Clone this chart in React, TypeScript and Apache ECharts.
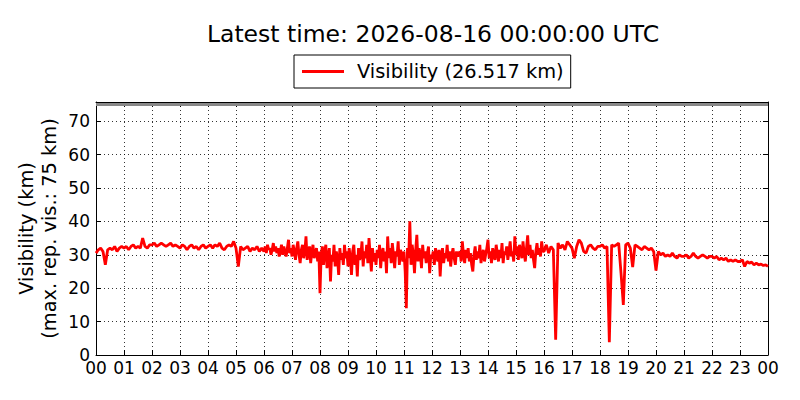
import React, { useEffect, useRef } from "react";
import * as echarts from "echarts";

// Visibility (km).
// 00:00–06:00, one value every 5 minutes
const visH00 = [
  30.5, 31.5, 32, 31, 27, 31.5, 32, 31.5, 32.5, 31, 32, 32.5,
  32, 32.5, 31.5, 32.5, 33, 32, 32.5, 32, 35, 32.5, 32, 33,
  33, 33.5, 32.5, 33, 33.5, 33, 32.5, 33, 33.5, 32.5, 33, 32.5,
  32, 33, 32.5, 31.5, 32.5, 33, 32, 32.5, 31.5, 32.5, 33, 32,
  32.5, 33, 32, 33, 32.5, 33.5, 32, 31.5, 32.5, 33, 32.5, 34,
  32, 26.5, 32.5, 31.5, 32, 32.5, 31, 32, 31.5, 32.5, 31, 32,
];
// 06:00–11:00, one value every 2.5 minutes
const visH06 = [
  31, 32.5, 30.5, 33, 31.5, 32, 30, 31.5, 33.5, 31, 32.5, 30.5, 32, 29.5, 31, 33, 30, 32.5, 31, 29.5, 32, 34.5, 30.5, 32,
  29.5, 33, 31, 28.5, 32, 34, 30, 27.5, 31.5, 33, 29, 31, 35.5, 28.5, 30.5, 32.5, 27.5, 31, 33, 29, 30.5, 32, 28, 31,
  18.5, 30, 32.5, 27, 31, 33, 26, 29.5, 32, 22, 30, 28, 33, 26.5, 31, 29, 24, 32, 28.5, 30.5, 27, 33, 29, 31,
  26.5, 32, 29, 24, 31, 33, 27, 30, 23.5, 32, 28.5, 30, 34, 26.5, 31, 29, 33, 27.5, 35, 30, 25, 32, 28, 30.5,
  27, 31.5, 29, 33, 26, 30.5, 32, 28, 31, 24.5, 35.5, 29, 32, 27.5, 33.5, 30, 26, 31, 29.5, 34, 27, 31.5, 30, 28,
];
// 11:00–16:00, one value every 2.5 minutes
const visH11 = [
  31, 25, 14, 32, 29, 40, 27, 33, 30, 24.5, 31.5, 36, 28, 32, 30, 26, 33, 29, 31, 27.5, 30.5, 32.5, 24.5, 30,
  29, 31, 27, 32, 30, 28, 31.5, 23.5, 30, 32, 27.5, 30.5, 29, 33, 28, 31, 26.5, 30, 32, 29, 27, 31, 29.5, 30.5,
  31, 28, 34, 30, 27.5, 31.5, 29, 32, 28, 30.5, 27, 25, 30, 32.5, 28.5, 31, 29, 33, 27.5, 30, 31.5, 28, 30, 32,
  34.5, 29, 31, 27.5, 32, 30, 28.5, 33, 30.5, 28, 31.5, 29, 33.5, 27.5, 31, 30, 32.5, 28.5, 31, 34, 29.5, 31, 28, 35.5,
  30, 32.5, 28.5, 33, 31, 29, 34, 30.5, 28, 32, 35.8, 30, 33, 29, 31.5, 28.5, 26, 31, 33.5, 30, 32, 29.5, 34, 31,
];
// 16:00–18:00, one value every 5 minutes
const visH16 = [
  31, 33, 30.5, 32.5, 31.5, 4.6, 33.5, 32, 33, 31.5, 34, 33,
  32, 29, 32.5, 34.5, 33.5, 31, 30.5, 32.5, 33, 32, 31.5, 32.5,
];
// 18:00–24:00, one value every 5 minutes
const visH18 = [
  32.5, 33, 32, 32.5, 3.8, 33, 32.5, 33, 33.5, 24.6, 15, 33,
  33.5, 32, 26.3, 33, 32.5, 32, 31.5, 32.5, 32, 31.5, 32, 31,
  25.3, 31, 30, 30.5, 29.5, 30, 29.5, 30.5, 29.5, 29, 30, 29.5,
  29.5, 30, 29, 29.5, 30.5, 29.5, 29, 29.5, 30, 29.5, 29, 29.5,
  29.5, 29, 29.5, 28.5, 29, 28.5, 29, 28, 28.5, 28, 28.5, 28,
  28, 28.5, 26.5, 28, 27.5, 27.8, 27, 27.5, 27, 27.2, 26.8, 27,
];
const latestValue = 26.517;
const maxReportedVis = 75;

// [start hour, samples per hour, values]
const blocks: [number, number, number[]][] = [
  [0, 12, visH00],
  [6, 24, visH06],
  [11, 24, visH11],
  [16, 12, visH16],
  [18, 12, visH18],
];

const titleText = "Latest time: 2026-08-16 00:00:00 UTC";
const seriesName = `Visibility (${latestValue.toFixed(3)} km)`;

const FONT = "DejaVu Sans";

export default function App() {
  const ref = useRef<HTMLDivElement>(null);

  useEffect(() => {
    if (!ref.current) return;
    const chart = echarts.init(ref.current, undefined, { renderer: "svg" });
    const data: number[][] = [];
    blocks.forEach(([start, rate, vals]) => {
      vals.forEach((v, i) => data.push([start + i / rate, v]));
    });
    data.push([24, latestValue]);

    const tickStyle = { show: true, inside: true, length: 5, lineStyle: { color: "#000", width: 1 } };
    const hourLabel = (v: number) => String(Math.round(v) % 24).padStart(2, "0");

    chart.setOption({
      animation: false,
      backgroundColor: "#fff",
      textStyle: { fontFamily: FONT },
      title: {
        text: titleText,
        left: 428,
        top: 17,
        textAlign: "center",
        textStyle: { fontFamily: FONT, fontSize: 23.5, fontWeight: "normal", color: "#000" },
      },
      legend: {
        left: 294,
        top: 55,
        itemWidth: 42,
        itemHeight: 3,
        icon: "rect",
        padding: [7, 7, 7, 8],
        borderColor: "#000",
        borderWidth: 1,
        borderRadius: 0,
        textStyle: { fontFamily: FONT, fontSize: 19.4, color: "#000", padding: [0, 0, 0, 8] },
        data: [seriesName],
      },
      grid: { left: 96, right: 32, top: 102, bottom: 45 },
      xAxis: [
        {
          type: "value",
          min: 0,
          max: 24,
          interval: 1,
          axisLine: { show: true, lineStyle: { color: "#000", width: 1 } },
          axisTick: tickStyle,
          axisLabel: { color: "#000", fontFamily: FONT, fontSize: 17, margin: 4, formatter: hourLabel },
          splitLine: { show: true, lineStyle: { color: "#000", width: 0.8, type: [1, 3] } },
        },
        {
          type: "value",
          position: "top",
          min: 0,
          max: 24,
          interval: 1,
          axisLine: { show: true, onZero: false, lineStyle: { color: "#000", width: 1 } },
          axisTick: tickStyle,
          axisLabel: { show: false },
          splitLine: { show: false },
        },
      ],
      yAxis: [
        {
          type: "value",
          min: 0,
          max: 75.75,
          interval: 10,
          axisLine: { show: true, lineStyle: { color: "#000", width: 1 } },
          axisTick: tickStyle,
          axisLabel: {
            color: "#000",
            fontFamily: FONT,
            fontSize: 17,
            margin: 6,
            padding: [0, 0, 3, 0],
            showMaxLabel: false,
          },
          splitLine: { show: true, lineStyle: { color: "#000", width: 0.8, type: [1, 3] } },
          name: "Visibility (km)\n(max. rep. vis.: 75 km)",
          nameLocation: "middle",
          nameRotate: 90,
          nameGap: 35,
          nameMoveOverlap: false,
          nameTextStyle: { fontFamily: FONT, fontSize: 19.4, color: "#000", lineHeight: 23 },
        },
        {
          type: "value",
          position: "right",
          min: 0,
          max: 75.75,
          interval: 10,
          axisLine: { show: true, onZero: false, lineStyle: { color: "#000", width: 1 } },
          axisTick: tickStyle,
          axisLabel: { show: false },
          splitLine: { show: false },
        },
      ],
      series: [
        {
          name: seriesName,
          type: "line",
          data,
          showSymbol: false,
          symbol: "none",
          color: "#ff0000",
          lineStyle: { color: "#ff0000", width: 2.8 },
          markLine: {
            silent: true,
            symbol: "none",
            label: { show: false },
            lineStyle: { color: "#888", width: 3, type: "solid" },
            data: [{ yAxis: maxReportedVis }],
          },
        },
      ],
    });
    return () => chart.dispose();
  }, []);

  return <div ref={ref} style={{ width: 800, height: 400, margin: -8 }} />;
}
